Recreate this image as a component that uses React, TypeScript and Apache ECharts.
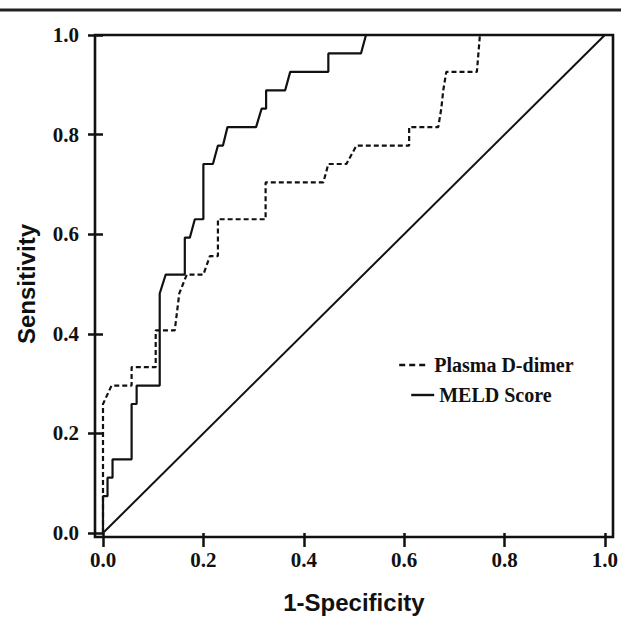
import { useEffect, useRef } from 'react';
import * as echarts from 'echarts';

// ROC curve data (1 - specificity, sensitivity)
const plasmaFPR = [0, 0, 0.017, 0.057, 0.057, 0.105, 0.105, 0.143, 0.152, 0.167, 0.2, 0.213, 0.229, 0.229, 0.324, 0.324, 0.439, 0.449, 0.485, 0.505, 0.61, 0.61, 0.668, 0.674, 0.678, 0.684, 0.745, 0.751, 1];
const plasmaTPR = [0, 0.259, 0.296, 0.296, 0.333, 0.333, 0.407, 0.407, 0.481, 0.519, 0.519, 0.556, 0.556, 0.63, 0.63, 0.704, 0.704, 0.741, 0.741, 0.778, 0.778, 0.815, 0.815, 0.852, 0.889, 0.926, 0.926, 1, 1];

const meldFPR = [0, 0, 0.009, 0.009, 0.019, 0.019, 0.057, 0.057, 0.067, 0.067, 0.113, 0.113, 0.125, 0.163, 0.163, 0.173, 0.183, 0.2, 0.2, 0.219, 0.229, 0.239, 0.248, 0.305, 0.316, 0.325, 0.325, 0.363, 0.373, 0.449, 0.449, 0.514, 0.524, 1];
const meldTPR = [0, 0.074, 0.074, 0.111, 0.111, 0.148, 0.148, 0.259, 0.259, 0.296, 0.296, 0.481, 0.519, 0.519, 0.593, 0.593, 0.63, 0.63, 0.741, 0.741, 0.778, 0.778, 0.815, 0.815, 0.852, 0.852, 0.889, 0.889, 0.926, 0.926, 0.963, 0.963, 1, 1];

const refFPR = [0, 1];
const refTPR = [0, 1];

const seriesNames = ['Plasma D-dimer', 'MELD Score'];
const xTitle = '1-Specificity';
const yTitle = 'Sensitivity';

const zip = (xs: number[], ys: number[]) => xs.map((x, i) => [x, ys[i]]);

export default function App() {
  const ref = useRef<HTMLDivElement>(null);
  useEffect(() => {
    const chart = echarts.init(ref.current!, null, { renderer: 'svg' });
    const tickFont = {
      fontFamily: 'Liberation Serif',
      fontWeight: 'bold' as const,
      fontSize: 21,
      color: '#111',
    };
    const titleFont = {
      fontFamily: 'Liberation Sans',
      fontWeight: 'bold' as const,
      fontSize: 24,
      color: '#111',
    };
    const legendText = {
      fontFamily: 'Liberation Serif',
      fontWeight: 'bold' as const,
      fontSize: 20,
      color: '#111',
      lineHeight: 20,
    };
    chart.setOption({
      animation: false,
      backgroundColor: '#fff',
      grid: { left: 103, right: 16, top: 35, bottom: 82, containLabel: false },
      xAxis: {
        type: 'value',
        min: 0,
        max: 1,
        interval: 0.2,
        name: xTitle,
        nameLocation: 'middle',
        nameGap: 57,
        nameTextStyle: titleFont,
        axisLine: { show: false },
        axisTick: { show: true, inside: false, length: 14, lineStyle: { color: '#111', width: 2.5 } },
        axisLabel: { ...tickFont, margin: 16, formatter: (v: number) => v.toFixed(1) },
        splitLine: { show: false },
      },
      yAxis: {
        type: 'value',
        min: 0,
        max: 1,
        interval: 0.2,
        offset: 8,
        name: yTitle,
        nameLocation: 'middle',
        nameGap: 57,
        nameTextStyle: titleFont,
        axisLine: { show: false },
        axisTick: { show: true, inside: false, length: 15, lineStyle: { color: '#111', width: 2.5 } },
        axisLabel: { ...tickFont, margin: 16, formatter: (v: number) => v.toFixed(1) },
        splitLine: { show: false },
      },
      legend: [
        {
          data: [seriesNames[0]],
          left: 398,
          top: 355,
          padding: 0,
          itemWidth: 30,
          itemHeight: 14,
          selectedMode: false,
          itemStyle: { opacity: 0 },
          lineStyle: { color: '#111', width: 2.4, type: [6, 4] },
          textStyle: legendText,
        },
        {
          data: [seriesNames[1]],
          left: 410,
          top: 385,
          padding: 0,
          itemWidth: 23,
          itemHeight: 14,
          selectedMode: false,
          itemStyle: { opacity: 0 },
          lineStyle: { color: '#111', width: 2.4, type: 'solid' },
          textStyle: legendText,
        },
      ],
      graphic: [
        {
          type: 'line',
          shape: { x1: 0, y1: 10, x2: 621, y2: 10 },
          style: { stroke: '#222', lineWidth: 3 },
          silent: true,
        },
        {
          type: 'rect',
          shape: { x: 95, y: 35, width: 518, height: 502 },
          style: { fill: 'none', stroke: '#111', lineWidth: 2.6 },
          silent: true,
          z: 10,
        },
      ],
      series: [
        {
          name: seriesNames[0],
          type: 'line',
          data: zip(plasmaFPR, plasmaTPR),
          symbol: 'none',
          lineStyle: { color: '#111', width: 2.2, type: [5, 3] },
          itemStyle: { color: '#111' },
          z: 3,
        },
        {
          name: seriesNames[1],
          type: 'line',
          data: zip(meldFPR, meldTPR),
          symbol: 'none',
          lineStyle: { color: '#111', width: 2.2, type: 'solid' },
          itemStyle: { color: '#111' },
          z: 4,
        },
        {
          name: 'Reference',
          type: 'line',
          data: zip(refFPR, refTPR),
          symbol: 'none',
          lineStyle: { color: '#111', width: 2, type: 'solid' },
          z: 2,
        },
      ],
    });
    return () => chart.dispose();
  }, []);
  return (
    <div
      ref={ref}
      style={{ position: 'absolute', left: 0, top: 0, width: 621, height: 619 }}
    />
  );
}
